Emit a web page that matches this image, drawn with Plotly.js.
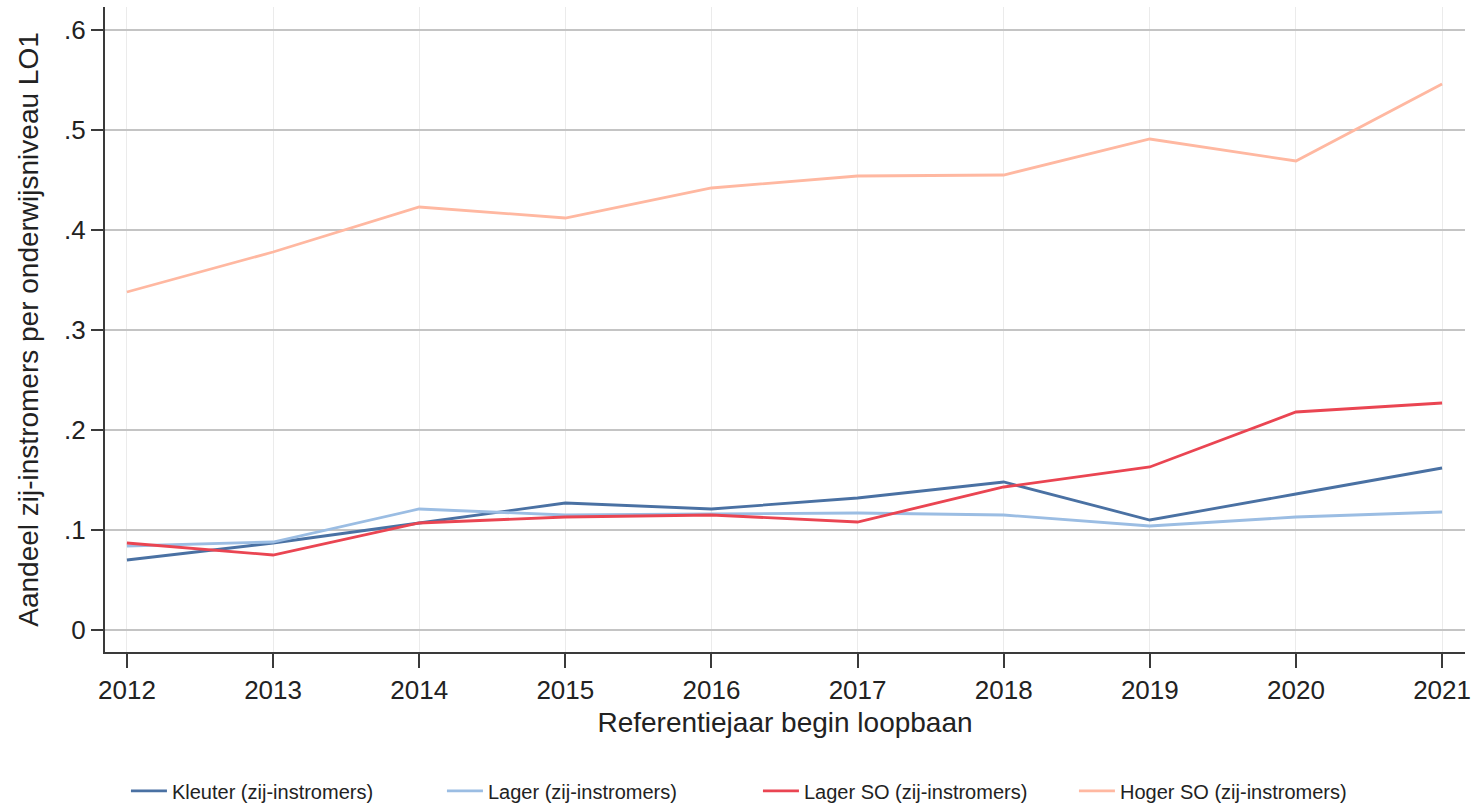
<!DOCTYPE html>
<html>
<head>
<meta charset="utf-8">
<script src="https://cdn.plot.ly/plotly-3.0.1.min.js"></script>
<style>html,body{margin:0;padding:0;background:#fff;}#chart{width:1473px;height:803px;}</style>
</head>
<body>
<div id="chart"></div>
<script>
const years = [2012, 2013, 2014, 2015, 2016, 2017, 2018, 2019, 2020, 2021];
const kleuter = [0.070, 0.087, 0.107, 0.127, 0.121, 0.132, 0.148, 0.110, 0.136, 0.162];
const lager = [0.084, 0.088, 0.121, 0.115, 0.116, 0.117, 0.115, 0.104, 0.113, 0.118];
const lagerSO = [0.087, 0.075, 0.107, 0.113, 0.115, 0.108, 0.143, 0.163, 0.218, 0.227];
const hogerSO = [0.338, 0.378, 0.423, 0.412, 0.442, 0.454, 0.455, 0.491, 0.469, 0.546];
const seriesNames = ["Kleuter (zij-instromers)", "Lager (zij-instromers)", "Lager SO (zij-instromers)", "Hoger SO (zij-instromers)"];
const yTickVals = [0, 0.1, 0.2, 0.3, 0.4, 0.5, 0.6];
const yTickText = ["0", ".1", ".2", ".3", ".4", ".5", ".6"];
const xLabel = "Referentiejaar begin loopbaan";
const yLabel = "Aandeel zij-instromers per onderwijsniveau LO1";

const colors = ["#4a71a3", "#9bbde3", "#ea4552", "#ffb8a1"];
const allSeries = [kleuter, lager, lagerSO, hogerSO];
const font = "Liberation Sans, Arial, Helvetica, sans-serif";

const traces = allSeries.map((s, i) => ({
  x: years, y: s, name: seriesNames[i], type: "scatter", mode: "lines",
  line: {color: colors[i], width: 2.8}
}));

const layout = {
  width: 1473, height: 803,
  margin: {l: 105, r: 8, t: 7, b: 151},
  paper_bgcolor: "#fff", plot_bgcolor: "#fff",
  font: {family: font, color: "#222", size: 26},
  showlegend: true,
  legend: {
    orientation: "h", xref: "container", yref: "container",
    x: 0.0855, xanchor: "left", y: 0.015, yanchor: "middle",
    font: {family: font, size: 20, color: "#222"},
    entrywidth: 265, itemwidth: 36, traceorder: "normal"
  },
  xaxis: {
    range: [2011.85, 2021.157], tickvals: years, ticktext: years.map(String),
    showgrid: true, gridcolor: "#ebebeb", gridwidth: 1,
    zeroline: false, showline: true, linecolor: "#3a3a3a", linewidth: 2,
    ticks: "outside", ticklen: 14, tickwidth: 2, tickcolor: "#3a3a3a",
    tickfont: {size: 26, family: font, color: "#222"},
    automargin: false,
    title: {text: xLabel, font: {size: 28, family: font, color: "#222"}, standoff: 8}
  },
  yaxis: {
    range: [-0.022, 0.623], tickvals: yTickVals, ticktext: yTickText,
    showgrid: true, gridcolor: "#c4c4c4", gridwidth: 2,
    zeroline: false, showline: true, linecolor: "#3a3a3a", linewidth: 2,
    ticks: "outside", ticklen: 12, tickwidth: 2, tickcolor: "#3a3a3a",
    tickfont: {size: 26, family: font, color: "#222"},
    automargin: false,
    title: {text: yLabel, font: {size: 28, family: font, color: "#222"}, standoff: 17}
  }
};

Plotly.newPlot("chart", traces, layout, {displayModeBar: false, staticPlot: true});
</script>
</body>
</html>
